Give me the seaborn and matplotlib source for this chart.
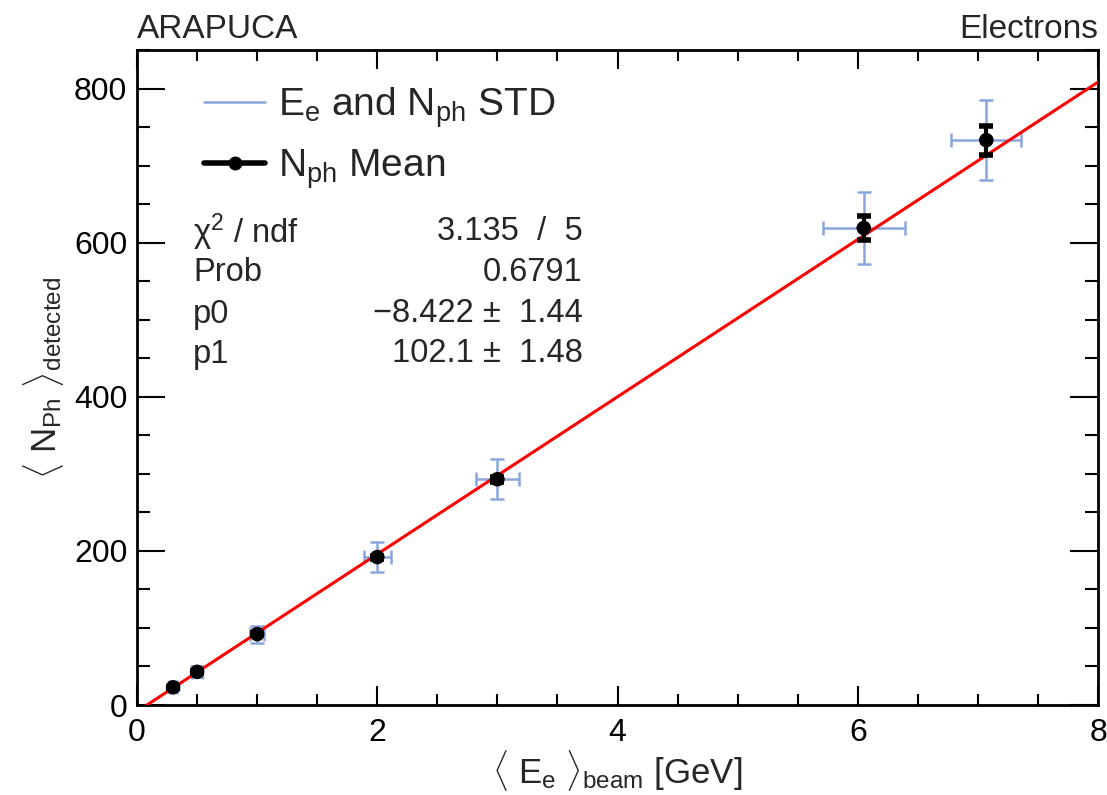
import numpy as np
import pandas as pd
import matplotlib
matplotlib.use("Agg")
import matplotlib.pyplot as plt
from matplotlib.lines import Line2D
from matplotlib.ticker import MultipleLocator
import seaborn as sns

# ---- data ----
energy = [0.30, 0.50, 1.00, 2.00, 3.00, 6.05, 7.07]
nph_mean = [23, 43, 92, 192, 293, 619, 733]
energy_std = [0.03, 0.04, 0.06, 0.11, 0.18, 0.34, 0.29]
nph_std = [4, 7, 11, 19, 26, 47, 52]
nph_mean_err = [1, 1, 1.5, 2, 3, 16, 19]
p0, p1 = -8.422, 102.1
stats_labels = ["\u03c7$^{2}$ / ndf", "Prob", "p0", "p1"]
stats_values = ["3.135  /  5", "0.6791", "\u22128.422 \u00b1  1.44", "102.1 \u00b1  1.48"]

df = pd.DataFrame({"E": energy, "N": nph_mean, "Estd": energy_std,
                   "Nstd": nph_std, "Nerr": nph_mean_err})
fit_x = np.linspace(0, 8, 50)
fit_df = pd.DataFrame({"E": fit_x, "N": p0 + p1 * fit_x})

sns.set_style("ticks")
plt.rcParams["font.family"] = ["Liberation Sans", "DejaVu Sans"]
plt.rcParams["mathtext.fontset"] = "custom"
plt.rcParams["mathtext.rm"] = "Liberation Sans"
plt.rcParams["mathtext.it"] = "Liberation Sans"
plt.rcParams["mathtext.bf"] = "Liberation Sans:bold"

fig = plt.figure(figsize=(11.07, 7.95), dpi=100)
ax = fig.add_axes([0.1238, 0.1132, 0.8681, 0.8239])

blue = "#8aa6dc"
ax.errorbar(df["E"], df["N"], xerr=df["Estd"], yerr=df["Nstd"], fmt="none",
            ecolor=blue, elinewidth=1.8, capsize=5, capthick=1.8, zorder=2)
sns.lineplot(data=fit_df, x="E", y="N", color="red", linewidth=2.2, ax=ax, zorder=3)
ax.errorbar(df["E"], df["N"], yerr=df["Nerr"], fmt="none", ecolor="black",
            elinewidth=3, capsize=5, capthick=4, zorder=4)
sns.scatterplot(data=df, x="E", y="N", color="black", s=110, edgecolor="none",
                ax=ax, zorder=5)

ax.set_xlim(0, 8)
ax.set_ylim(0, 850)
ax.xaxis.set_major_locator(MultipleLocator(2))
ax.xaxis.set_minor_locator(MultipleLocator(0.5))
ax.yaxis.set_major_locator(MultipleLocator(200))
ax.yaxis.set_minor_locator(MultipleLocator(50))
ax.tick_params(axis="both", which="both", direction="in", top=True, right=True,
               labelsize=23, width=1.5, colors="black")
ax.tick_params(axis="x", which="major", length=14, pad=9)
ax.tick_params(axis="x", which="minor", length=8)
ax.tick_params(axis="y", which="major", length=20, pad=7)
ax.tick_params(axis="y", which="minor", length=9.5)
for s in ax.spines.values():
    s.set_linewidth(2)
    s.set_color("black")

ax.set_xlabel(r"$\langle\ \mathrm{E}_{\mathrm{e}}\ \rangle_{\mathrm{beam}}$ [GeV]",
              fontsize=25, labelpad=0)
ax.set_ylabel(r"$\langle\ \mathrm{N}_{\mathrm{Ph}}\ \rangle_{\mathrm{detected}}$",
              fontsize=25, labelpad=6)

fig.text(137 / 1107, 1 - 29 / 795, "ARAPUCA", fontsize=24, ha="left", va="center")
fig.text(1098 / 1107, 1 - 29 / 795, "Electrons", fontsize=24, ha="right", va="center")

handles = [Line2D([], [], color=blue, lw=1.8),
           Line2D([], [], color="black", lw=4, marker="o", markersize=9)]
labels = [r"E$_{\mathrm{e}}$ and N$_{\mathrm{ph}}$ STD", r"N$_{\mathrm{ph}}$ Mean"]
ax.legend(handles, labels, loc="upper left", bbox_to_anchor=(0.054, 0.97),
          frameon=False, fontsize=28, handlelength=1.55, handletextpad=0.33,
          labelspacing=0.45, borderaxespad=0)

row_y = [232, 273, 314, 354]
for lab, val, yy in zip(stats_labels, stats_values, row_y):
    fig.text(193 / 1107, 1 - yy / 795, lab, fontsize=23.5, ha="left", va="center")
    fig.text(583 / 1107, 1 - yy / 795, val, fontsize=23.5, ha="right", va="center")

fig.savefig("out.png", dpi=100)
